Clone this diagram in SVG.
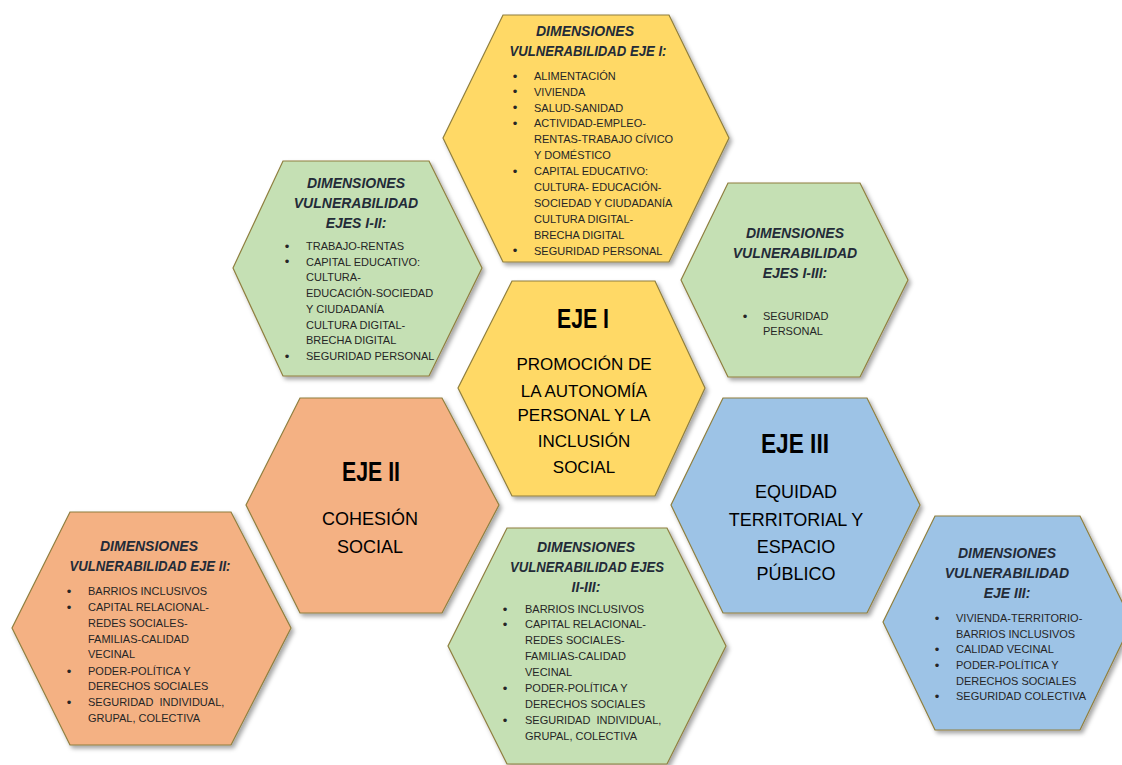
<svg xmlns="http://www.w3.org/2000/svg" width="1122" height="765" viewBox="0 0 1122 765">
<defs>
<filter id="sh" x="-10%" y="-10%" width="125%" height="125%">
<feDropShadow dx="2.5" dy="3" stdDeviation="2" flood-color="#000" flood-opacity="0.35"/>
</filter>
<style>
.hex{stroke:#8F7F3F;stroke-width:1.2;filter:url(#sh)}
.y{fill:#FFD966}.g{fill:#C5E0B4}.o{fill:#F4B183}.bl{fill:#9DC3E6}
.h{font-family:"Liberation Sans",Arial,sans-serif;font-weight:bold;font-style:italic;font-size:14px;fill:#232B38;text-anchor:middle}
.t{font-family:"Liberation Sans",Arial,sans-serif;font-size:11px;fill:#262626;white-space:pre}
.b{font-family:"Liberation Sans",Arial,sans-serif;font-size:13px;fill:#262626;text-anchor:middle}
.e{font-family:"Liberation Sans",Arial,sans-serif;font-weight:bold;font-size:27px;fill:#000;text-anchor:middle}
.s{font-family:"Liberation Sans",Arial,sans-serif;font-size:18px;fill:#000;text-anchor:middle}
.s17{font-size:17px}
</style>
</defs>
<rect width="1122" height="765" fill="#fff"/>

<g id="dims-eje-1">
<polygon class="hex y" points="503,15 669,15 729,138 669,262 503,262 443,138"/>
<text class="h" x="585" y="35.5">DIMENSIONES</text>
<text class="h" x="588" y="55.5" textLength="157" lengthAdjust="spacingAndGlyphs">VULNERABILIDAD EJE I:</text>
<text class="b" x="515" y="80.5">•</text><text class="t" x="534" y="79.7">ALIMENTACIÓN</text>
<text class="b" x="515" y="96.4">•</text><text class="t" x="534" y="95.6">VIVIENDA</text>
<text class="b" x="515" y="112.3">•</text><text class="t" x="534" y="111.5">SALUD-SANIDAD</text>
<text class="b" x="515" y="128.2">•</text><text class="t" x="534" y="127.4">ACTIVIDAD-EMPLEO-</text>
<text class="t" x="534" y="143.3">RENTAS-TRABAJO CÍVICO</text>
<text class="t" x="534" y="159.2">Y DOMÉSTICO</text>
<text class="b" x="515" y="175.9">•</text><text class="t" x="534" y="175.1">CAPITAL EDUCATIVO:</text>
<text class="t" x="534" y="191">CULTURA- EDUCACIÓN-</text>
<text class="t" x="534" y="206.9">SOCIEDAD Y CIUDADANÍA</text>
<text class="t" x="534" y="222.8">CULTURA DIGITAL-</text>
<text class="t" x="534" y="238.7">BRECHA DIGITAL</text>
<text class="b" x="515" y="255.4">•</text><text class="t" x="534" y="254.6">SEGURIDAD PERSONAL</text>
</g>

<g id="dims-ejes-1-2">
<polygon class="hex g" points="283,161 429,161 482,268 429,376 283,376 233,268"/>
<text class="h" x="356" y="188">DIMENSIONES</text>
<text class="h" x="356" y="208">VULNERABILIDAD</text>
<text class="h" x="356" y="228">EJES I-II:</text>
<text class="b" x="287" y="250.5">•</text><text class="t" x="306" y="249.7">TRABAJO-RENTAS</text>
<text class="b" x="287" y="266.3">•</text><text class="t" x="306" y="265.5">CAPITAL EDUCATIVO:</text>
<text class="t" x="306" y="281.2">CULTURA-</text>
<text class="t" x="306" y="297">EDUCACIÓN-SOCIEDAD</text>
<text class="t" x="306" y="312.7">Y CIUDADANÍA</text>
<text class="t" x="306" y="328.5">CULTURA DIGITAL-</text>
<text class="t" x="306" y="344.2">BRECHA DIGITAL</text>
<text class="b" x="287" y="360.8">•</text><text class="t" x="306" y="360">SEGURIDAD PERSONAL</text>
</g>

<g id="dims-ejes-1-3">
<polygon class="hex g" points="728,183 860,183 908,280 860,377 728,377 681,280"/>
<text class="h" x="795" y="237.7">DIMENSIONES</text>
<text class="h" x="795" y="257.7">VULNERABILIDAD</text>
<text class="h" x="795" y="277.7">EJES I-III:</text>
<text class="b" x="745" y="320.8">•</text><text class="t" x="763" y="320">SEGURIDAD</text>
<text class="t" x="763" y="334.7">PERSONAL</text>
</g>

<g id="eje-1">
<polygon class="hex y" points="512,281 655,281 705,388 655,496 512,496 458,388"/>
<text class="e" x="583" y="328" textLength="52" lengthAdjust="spacingAndGlyphs">EJE I</text>
<text class="s s17" x="584" y="370">PROMOCIÓN DE</text>
<text class="s s17" x="584" y="396.5">LA AUTONOMÍA</text>
<text class="s s17" x="584" y="421">PERSONAL Y LA</text>
<text class="s s17" x="584" y="447">INCLUSIÓN</text>
<text class="s s17" x="584" y="473">SOCIAL</text>
</g>

<g id="eje-2">
<polygon class="hex o" points="300,398 442,398 499,505 442,613 300,613 246,505"/>
<text class="e" x="371" y="481" textLength="58" lengthAdjust="spacingAndGlyphs">EJE II</text>
<text class="s" x="370" y="524.5">COHESIÓN</text>
<text class="s" x="370" y="553">SOCIAL</text>
</g>

<g id="eje-3">
<polygon class="hex bl" points="723,398 867,398 920,505 867,613 723,613 671,505"/>
<text class="e" x="795" y="453" textLength="68" lengthAdjust="spacingAndGlyphs">EJE III</text>
<text class="s" x="796" y="498">EQUIDAD</text>
<text class="s" x="796" y="525.5">TERRITORIAL Y</text>
<text class="s" x="796" y="553">ESPACIO</text>
<text class="s" x="796" y="579.5">PÚBLICO</text>
</g>

<g id="dims-eje-2">
<polygon class="hex o" points="70,512 231,512 291,628 231,745 70,745 12,628"/>
<text class="h" x="149" y="550.7">DIMENSIONES</text>
<text class="h" x="150" y="570.7" textLength="161" lengthAdjust="spacingAndGlyphs">VULNERABILIDAD EJE II:</text>
<text class="b" x="69" y="595.5">•</text><text class="t" x="88" y="594.7">BARRIOS INCLUSIVOS</text>
<text class="b" x="69" y="611.8">•</text><text class="t" x="88" y="611">CAPITAL RELACIONAL-</text>
<text class="t" x="88" y="626.7">REDES SOCIALES-</text>
<text class="t" x="88" y="642.7">FAMILIAS-CALIDAD</text>
<text class="t" x="88" y="658">VECINAL</text>
<text class="b" x="69" y="675.5">•</text><text class="t" x="88" y="674.7">PODER-POLÍTICA Y</text>
<text class="t" x="88" y="690">DERECHOS SOCIALES</text>
<text class="b" x="69" y="706.8">•</text><text class="t" x="88" y="706">SEGURIDAD  INDIVIDUAL,</text>
<text class="t" x="88" y="722">GRUPAL, COLECTIVA</text>
</g>

<g id="dims-ejes-2-3">
<polygon class="hex g" points="507,528 667,528 726,646 667,764 507,764 448,646"/>
<text class="h" x="586" y="551.7">DIMENSIONES</text>
<text class="h" x="587" y="571.7" textLength="154" lengthAdjust="spacingAndGlyphs">VULNERABILIDAD EJES</text>
<text class="h" x="586" y="591.7">II-III:</text>
<text class="b" x="505" y="613.8">•</text><text class="t" x="525" y="613">BARRIOS INCLUSIVOS</text>
<text class="b" x="505" y="629.1">•</text><text class="t" x="525" y="628.3">CAPITAL RELACIONAL-</text>
<text class="t" x="525" y="644">REDES SOCIALES-</text>
<text class="t" x="525" y="660">FAMILIAS-CALIDAD</text>
<text class="t" x="525" y="675.7">VECINAL</text>
<text class="b" x="505" y="693.1">•</text><text class="t" x="525" y="692.3">PODER-POLÍTICA Y</text>
<text class="t" x="525" y="708">DERECHOS SOCIALES</text>
<text class="b" x="505" y="724.8">•</text><text class="t" x="525" y="724">SEGURIDAD  INDIVIDUAL,</text>
<text class="t" x="525" y="739.7">GRUPAL, COLECTIVA</text>
</g>

<g id="dims-eje-3">
<polygon class="hex bl" points="935,516 1080,516 1132,622 1080,730 935,730 883,622"/>
<text class="h" x="1007" y="557.7">DIMENSIONES</text>
<text class="h" x="1007" y="578">VULNERABILIDAD</text>
<text class="h" x="1007" y="598">EJE III:</text>
<text class="b" x="937" y="622.8">•</text><text class="t" x="956" y="622">VIVIENDA-TERRITORIO-</text>
<text class="t" x="956" y="637.7">BARRIOS INCLUSIVOS</text>
<text class="b" x="937" y="654.1">•</text><text class="t" x="956" y="653.3">CALIDAD VECINAL</text>
<text class="b" x="937" y="670.1">•</text><text class="t" x="956" y="669.3">PODER-POLÍTICA Y</text>
<text class="t" x="956" y="685">DERECHOS SOCIALES</text>
<text class="b" x="937" y="701.1">•</text><text class="t" x="956" y="700.3">SEGURIDAD COLECTIVA</text>
</g>

<g id="connectors"/>
</svg>
